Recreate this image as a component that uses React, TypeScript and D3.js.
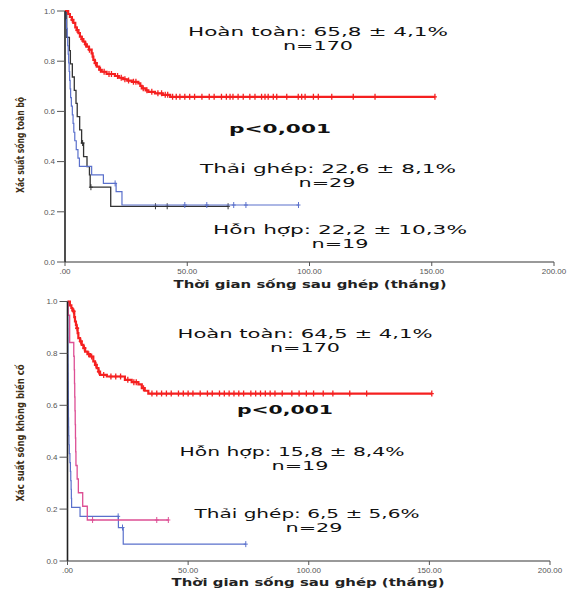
import React from 'react';
import * as d3 from 'd3';

type Step = [number, number];

// axis ticks
const xTicks = [0, 50, 100, 150, 200];
const yTicks = [0, 0.2, 0.4, 0.6, 0.8, 1.0];
const xTitle = 'Thời gian sống sau ghép (tháng)';

// ---- top panel: overall survival ----
const topCompleteSteps: Step[] = [
  [1.3, 0.988], [2.0, 0.976], [2.8, 0.965], [3.4, 0.953], [4.2, 0.935], [4.8, 0.924],
  [5.5, 0.912], [6.1, 0.898], [6.8, 0.888], [7.5, 0.878], [8.2, 0.867], [8.9, 0.858],
  [9.8, 0.846], [10.9, 0.831], [11.3, 0.818], [11.6, 0.805], [12.2, 0.792], [13, 0.778],
  [14, 0.766], [15, 0.758], [17, 0.749], [20.4, 0.741], [22, 0.734], [23.8, 0.728],
  [25.5, 0.723], [27.3, 0.718], [30, 0.712], [30.8, 0.702], [31.4, 0.692], [33, 0.684],
  [34.1, 0.678], [36.8, 0.672], [40, 0.666], [43, 0.658],
];
const topCompleteCensor = [
  3, 5, 7, 8.5, 10, 12.5, 14.5, 16, 18, 19, 21.5, 23, 24.5, 26, 28, 29, 32, 33.5, 35.5,
  38, 39.5, 41, 42, 44, 45.5, 47, 49, 51, 53, 56, 59, 61, 64, 66, 67.5, 68.7, 70.8, 72.9,
  75.6, 77.7, 80.4, 81.8, 83.1, 85.2, 86.6, 90.7, 95.4, 96.8, 98.2, 101.6, 103.6, 109.1,
  117.9, 126.8, 151.3,
];
const topRejectSteps: Step[] = [
  [0.3, 0.966], [0.6, 0.931], [0.9, 0.897], [1.1, 0.862], [1.3, 0.828], [1.5, 0.793],
  [1.7, 0.759], [1.9, 0.724], [2.1, 0.69], [2.3, 0.655], [2.6, 0.621], [3.0, 0.586],
  [3.3, 0.552], [3.6, 0.517], [4.0, 0.483], [4.6, 0.448], [5.3, 0.414], [5.9, 0.381],
  [10.9, 0.347], [15.7, 0.313], [20.9, 0.28], [23.3, 0.227],
];
const topRejectCensor = [20.5, 49, 58, 69, 74, 95.5];
const topMixedSteps: Step[] = [
  [0.7, 0.895], [1.8, 0.842], [2.2, 0.789], [3.0, 0.737], [3.8, 0.684], [4.5, 0.632],
  [5.0, 0.579], [6.0, 0.526], [6.8, 0.474], [7.6, 0.42], [9.0, 0.38], [10.0, 0.347],
  [10.3, 0.298], [18.7, 0.222],
];
const topMixedCensor = [7.2, 10.6, 37, 41.8, 66.7];
const topNotes = [
  'Hoàn toàn: 65,8 ± 4,1%', 'n=170', 'p<0,001',
  'Thải ghép: 22,6 ± 8,1%', 'n=29', 'Hỗn hợp: 22,2 ± 10,3%', 'n=19',
];

// ---- bottom panel: event-free survival ----
const botCompleteSteps: Step[] = [
  [1.0, 0.985], [1.6, 0.975], [2.0, 0.968], [2.4, 0.962], [2.8, 0.94], [3.1, 0.923],
  [3.5, 0.91], [3.8, 0.897], [4.2, 0.878], [4.5, 0.859], [5.2, 0.846], [5.9, 0.833],
  [6.6, 0.82], [7.3, 0.807], [8.3, 0.797], [9.3, 0.788], [10.7, 0.769], [11.4, 0.756],
  [12.1, 0.743], [12.8, 0.73], [13.5, 0.717], [16.3, 0.711], [23.8, 0.698], [26.6, 0.689],
  [29.4, 0.681], [30.8, 0.666], [32, 0.656], [33.5, 0.645],
];
const botCompleteCensor = [
  2.5, 4, 5.5, 7, 8.8, 10, 11.8, 13, 15, 18, 20, 22, 25, 27.5, 28.5, 31.5, 35, 37, 39, 41,
  43, 46, 48, 50, 52, 55, 58, 60, 63, 65, 67, 69, 71, 73, 76, 78, 80, 82, 84, 86, 89, 93,
  96, 99, 102, 106, 110, 117, 124, 151,
];
const botMixedSteps: Step[] = [
  [0.3, 0.947], [0.9, 0.842], [2.6, 0.789], [2.8, 0.737], [2.9, 0.684], [3.0, 0.632],
  [3.1, 0.579], [3.2, 0.526], [3.3, 0.474], [3.4, 0.421], [3.5, 0.368], [4.0, 0.316],
  [4.5, 0.263], [6.3, 0.211], [8.2, 0.158],
];
const botMixedCensor = [10.4, 37, 41.8];
const botRejectSteps: Step[] = [
  [0.05, 0.966], [0.1, 0.931], [0.12, 0.897], [0.15, 0.862], [0.18, 0.828], [0.2, 0.793],
  [0.23, 0.759], [0.26, 0.724], [0.29, 0.69], [0.32, 0.655], [0.35, 0.621], [0.38, 0.586],
  [0.4, 0.552], [0.45, 0.517], [0.5, 0.483], [0.6, 0.448], [0.75, 0.414], [1.0, 0.379],
  [1.2, 0.345], [1.35, 0.31], [1.5, 0.276], [1.6, 0.241], [1.7, 0.207], [5.2, 0.172],
  [21.1, 0.129], [23.1, 0.065],
];
const botRejectCensor = [21, 22.8, 73.9];
const botNotes = [
  'Hoàn toàn: 64,5 ± 4,1%', 'n=170', 'p<0,001',
  'Hỗn hợp: 15,8 ± 8,4%', 'n=19', 'Thải ghép: 6,5 ± 5,6%', 'n=29',
];

type Curve = { steps: Step[]; censor: number[]; color: string; width: number };
type NotePos = { x: number; y: number; w: number; bold?: boolean };

const topNotePos: NotePos[] = [
  { x: 318, y: 32, w: 260 }, { x: 318, y: 46, w: 70 }, { x: 280, y: 129, w: 102, bold: true },
  { x: 328, y: 169, w: 256 }, { x: 327, y: 183, w: 57 },
  { x: 340, y: 230, w: 254 }, { x: 340, y: 244, w: 57 },
];
const botNotePos: NotePos[] = [
  { x: 305, y: 334, w: 255 }, { x: 305, y: 348, w: 70 }, { x: 285, y: 410, w: 96, bold: true },
  { x: 292, y: 452, w: 225 }, { x: 300, y: 466, w: 57 },
  { x: 307, y: 514, w: 225 }, { x: 314, y: 528, w: 57 },
];

const survAt = (steps: Step[], t: number) => {
  let s = 1;
  for (const [st, sv] of steps) if (st <= t) s = sv;
  return s;
};

function Panel(props: {
  xr: [number, number]; yr: [number, number]; curves: Curve[];
  notes: string[]; notePos: NotePos[]; yLabel: string; yLabelC: number; yLabelLen: number;
  titleX: number; titleY: number;
}) {
  const { xr, yr, curves, notes, notePos, yLabel, yLabelC, yLabelLen, titleX, titleY } = props;
  const x = d3.scaleLinear().domain([0, 200]).range(xr);
  const y = d3.scaleLinear().domain([0, 1]).range(yr);
  const line = d3.line<Step>().x(d => x(d[0])).y(d => y(d[1]));
  const fmt = (v: number) => (v === 0 ? '.00' : v.toFixed(2));

  return (
    <g>
      {curves.map((c, i) => {
        const pts: Step[] = [[0, 1]];
        let prev = 1;
        c.steps.forEach(([t, s]) => {
          pts.push([t, prev], [t, s]);
          prev = s;
        });
        const end = d3.max(c.censor) ?? 0;
        pts.push([end, prev]);
        return (
          <g key={i} stroke={c.color} fill="none">
            <path d={line(pts) ?? ''} strokeWidth={c.width} />
            {c.censor.map((t, j) => {
              const cx = x(t);
              const cy = y(survAt(c.steps, t));
              return (
                <path key={j} d={`M${cx},${cy - 3}V${cy + 3}M${cx - 2},${cy}H${cx + 2}`}
                  strokeWidth={c.width > 1.5 ? 1.3 : 1} />
              );
            })}
          </g>
        );
      })}
      {/* axes */}
      <line x1={xr[0]} x2={xr[1]} y1={yr[0]} y2={yr[0]} stroke="#777" strokeWidth={1.3} />
      <line x1={xr[0]} x2={xr[0]} y1={yr[0]} y2={yr[1]} stroke="#222" strokeWidth={1.6} />
      {yTicks.map(v => (
        <g key={v}>
          <line x1={xr[0] - 8} x2={xr[0]} y1={y(v)} y2={y(v)} stroke="#555" strokeWidth={1} />
          <text x={xr[0] - 10} y={y(v)} dy="0.35em" textAnchor="end" fontSize={8}
            fontFamily="Liberation Sans, Arial, sans-serif" fill="#555">{v.toFixed(1)}</text>
        </g>
      ))}
      {xTicks.map(v => (
        <g key={v}>
          <line x1={x(v)} x2={x(v)} y1={yr[0]} y2={yr[0] + 4} stroke="#555" strokeWidth={1} />
          <text x={x(v)} y={yr[0] + 9} dy="0.35em" textAnchor="middle" fontSize={8}
            fontFamily="Liberation Sans, Arial, sans-serif" fill="#555">{fmt(v)}</text>
        </g>
      ))}
      <text x={titleX} y={titleY} dy="0.35em" textAnchor="middle"
        fontSize={10.5} fontWeight="bold" fontFamily="DejaVu Sans, sans-serif" fill="#222"
        textLength={273} lengthAdjust="spacingAndGlyphs">{xTitle}</text>
      <text transform={`translate(24,${yLabelC}) rotate(-90)`} textAnchor="middle"
        fontSize={11} fontWeight="bold" fontFamily="DejaVu Sans, sans-serif" fill="#3d2e14"
        textLength={yLabelLen} lengthAdjust="spacingAndGlyphs">{yLabel}</text>
      {notes.map((n, i) => (
        <text key={i} x={notePos[i].x} y={notePos[i].y} dy="0.35em" textAnchor="middle"
          fontSize={12.5} fontWeight={notePos[i].bold ? 'bold' : 'normal'}
          fontFamily="DejaVu Sans, sans-serif" fill="#111"
          textLength={notePos[i].w} lengthAdjust="spacingAndGlyphs">{n}</text>
      ))}
    </g>
  );
}

export default function App() {
  const topCurves: Curve[] = [
    { steps: topMixedSteps, censor: topMixedCensor, color: '#333', width: 1.3 },
    { steps: topRejectSteps, censor: topRejectCensor, color: '#5a70cc', width: 1.2 },
    { steps: topCompleteSteps, censor: topCompleteCensor, color: '#f52020', width: 2.2 },
  ];
  const botCurves: Curve[] = [
    { steps: botRejectSteps, censor: botRejectCensor, color: '#5a70cc', width: 1.2 },
    { steps: botMixedSteps, censor: botMixedCensor, color: '#dd4f94', width: 1.3 },
    { steps: botCompleteSteps, censor: botCompleteCensor, color: '#f52020', width: 2.2 },
  ];
  return (
    <svg width={571} height={592} style={{ position: 'absolute', left: 0, top: 0, background: '#fff' }}>
      <Panel xr={[65, 554]} yr={[262, 11]} curves={topCurves} notes={topNotes}
        notePos={topNotePos} yLabel="Xác suất sống toàn bộ" yLabelC={145} yLabelLen={96}
        titleX={310} titleY={284} />
      <Panel xr={[67.5, 550]} yr={[561, 301.5]} curves={botCurves} notes={botNotes}
        notePos={botNotePos} yLabel="Xác suất sống không biến cố" yLabelC={433} yLabelLen={137}
        titleX={308} titleY={582} />
    </svg>
  );
}
